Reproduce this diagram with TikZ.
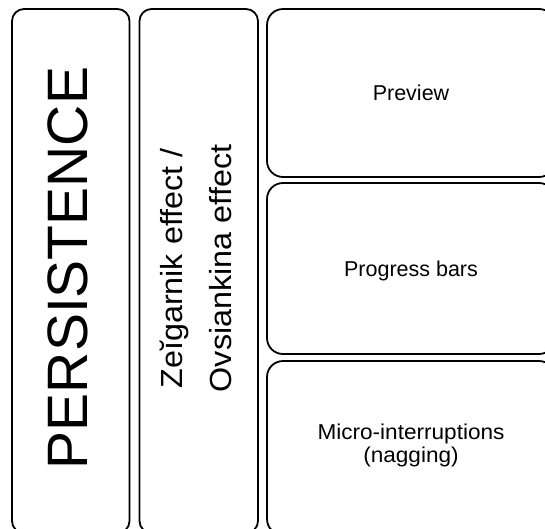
\documentclass[tikz,border=0pt]{standalone}
\usepackage{fontspec}
\setmainfont{Liberation Sans}
\begin{document}
\begin{tikzpicture}[x=1pt,y=-1pt,
  box/.style={draw=black, line width=1.8pt, rounded corners=12pt, anchor=north west, inner sep=0pt, outer sep=0pt},
  rbox/.style={box, rounded corners=16pt},
  bigtxt/.style={font=\fontsize{57}{60}\selectfont, rotate=90, inner sep=0pt},
  midtxt/.style={font=\fontsize{30.5}{36}\selectfont, rotate=90, anchor=base, inner sep=0pt},
  smltxt/.style={font=\fontsize{21.5}{24}\selectfont, anchor=base, inner sep=0pt}]
\useasboundingbox (0,0) rectangle (545,528);
\fill[white] (0,0) rectangle (545,528);
% boxes
\node[box, minimum width=117.5pt, minimum height=524pt] (b1) at (12,9) {};
\node[box, minimum width=118.5pt, minimum height=524pt] (b2) at (139.5,9) {};
\node[rbox, minimum width=288pt, minimum height=168pt] (r1) at (267,9) {};
\node[rbox, minimum width=288pt, minimum height=171pt] (r2) at (267,183) {};
\node[rbox, minimum width=288pt, minimum height=174pt] (r3) at (267,361) {};
% texts
\node[bigtxt] (t1) at (67.5,268) {PERSISTENCE};
\node[midtxt] (t2a) at (182,268.5) {\scalebox{1.06}[1]{Zeĭgarnik effect /}};
\node[midtxt] (t2b) at (231,268.5) {\scalebox{1.06}[1]{Ovsiankina effect}};
\node[smltxt] (t3) at (411,100) {Preview};
\node[smltxt] (t4) at (411,276) {Progress bars};
\node[smltxt] (t5a) at (411,439) {\scalebox{1.05}[1]{Micro-interruptions}};
\node[smltxt] (t5b) at (411,462) {\scalebox{1.05}[1]{(nagging)}};
\end{tikzpicture}
\end{document}
